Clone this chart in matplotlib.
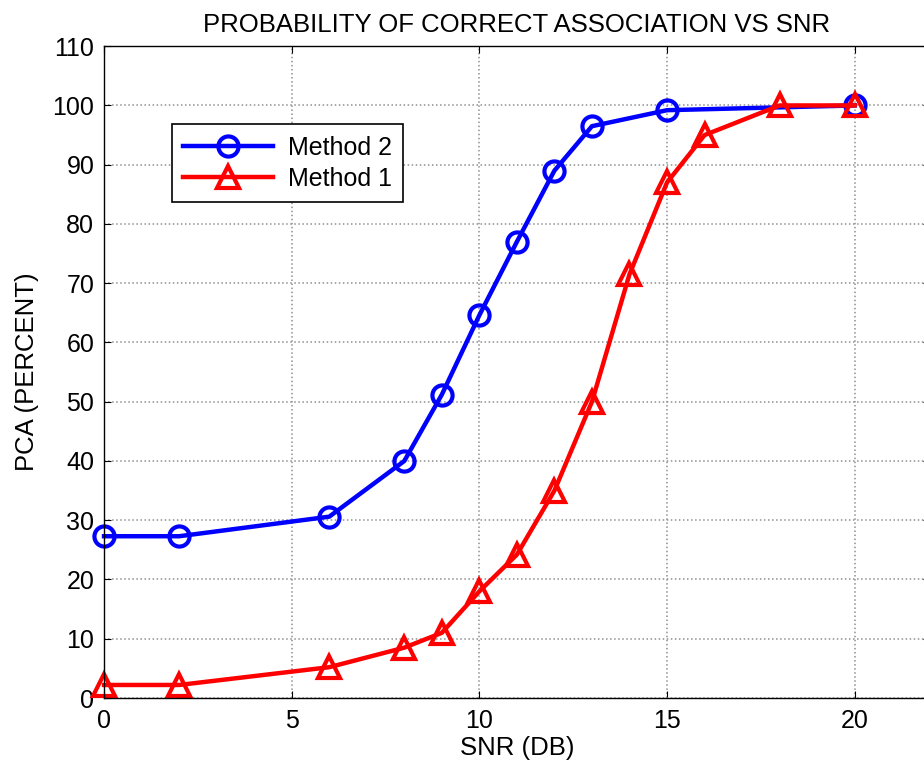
import matplotlib.pyplot as plt

plt.rcParams['font.family'] = ['Liberation Sans', 'DejaVu Sans']

# SNR points and PCA values
snr_m2 = [0, 2, 6, 8, 9, 10, 11, 12, 13, 15, 20]
pca_m2 = [27.3, 27.3, 30.6, 40.0, 51.2, 64.6, 77.0, 89.0, 96.5, 99.2, 100.0]

snr_m1 = [0, 2, 6, 8, 9, 10, 11, 12, 13, 14, 15, 16, 18, 20]
pca_m1 = [2.2, 2.2, 5.2, 8.5, 11.0, 18.0, 24.2, 35.0, 50.0, 71.5, 87.0, 95.0, 100.0, 100.0]

xticks = [0, 5, 10, 15, 20]
yticks = list(range(0, 111, 10))

fig = plt.figure(figsize=(9.24, 7.7), dpi=100)
ax = fig.add_axes([0.1126, 0.0935, 0.8936, 0.8465])

ax.plot(snr_m2, pca_m2, color='blue', lw=3.2, marker='o', ms=14.5,
        mfc='none', mec='blue', mew=3, label='Method 2', clip_on=False)
ax.plot(snr_m1, pca_m1, color='red', lw=3.2, marker='^', ms=16.5,
        mfc='none', mec='red', mew=3, label='Method 1', clip_on=False)

ax.set_xlim(0, 22)
ax.set_ylim(0, 110)
ax.set_xticks(xticks)
ax.set_yticks(yticks)
ax.tick_params(direction='in', top=True, right=True, labelsize=18, length=5)
ax.tick_params(axis='x', pad=8)
ax.tick_params(axis='y', pad=7)
ax.grid(True, color='#909090', linestyle=':', linewidth=1.1)
for s in ax.spines.values():
    s.set_linewidth(1)

ax.set_title('PROBABILITY OF CORRECT ASSOCIATION VS SNR', fontsize=18.5, pad=10)
ax.set_xlabel('SNR (DB)', fontsize=18.5, labelpad=2)
ax.set_ylabel('PCA (PERCENT)', fontsize=18.5, labelpad=10)

leg = ax.legend(loc='upper left', bbox_to_anchor=(0.082, 0.880), fontsize=18,
                fancybox=False, edgecolor='black', framealpha=1,
                borderaxespad=0, handlelength=3.6, handletextpad=0.6,
                borderpad=0.45, labelspacing=0.3)
leg.get_frame().set_linewidth(1.2)

fig.savefig('out.png', dpi=100)
